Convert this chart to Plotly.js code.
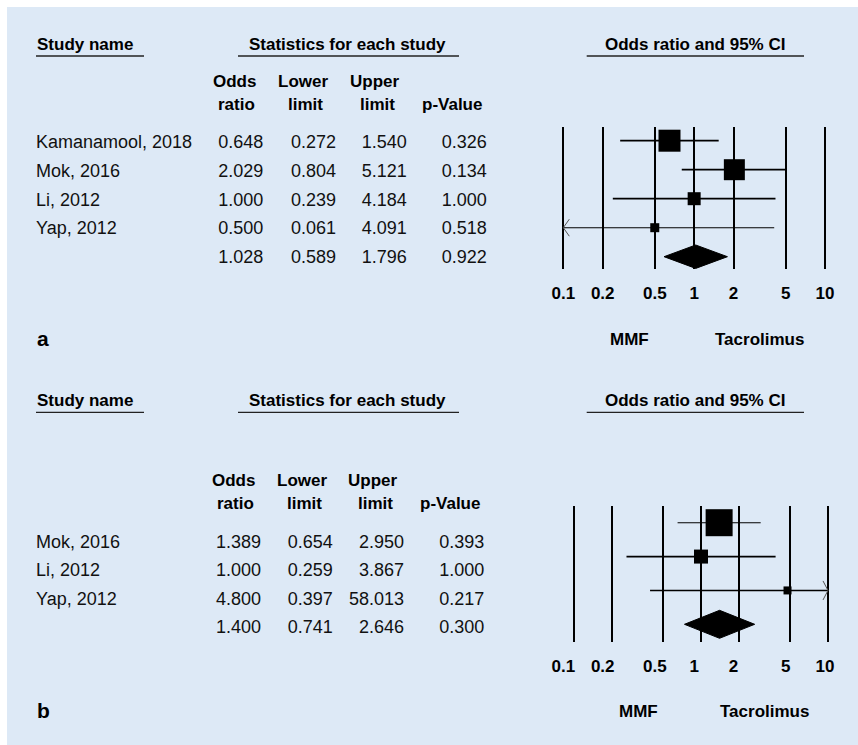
<!DOCTYPE html>
<html><head><meta charset="utf-8">
<script src="https://cdn.plot.ly/plotly-3.0.1.min.js"></script>
<style>html,body{margin:0;padding:0;background:#fff;}#chart{width:858px;height:745px;}</style>
</head><body><div id="chart"></div>
<script>
// ---------------- data ----------------
const studiesA = ['Kamanamool, 2018', 'Mok, 2016', 'Li, 2012', 'Yap, 2012'];
const oddsA  = [0.648, 2.029, 1.000, 0.500];
const lowerA = [0.272, 0.804, 0.239, 0.061];
const upperA = [1.540, 5.121, 4.184, 4.091];
const pValA  = [0.326, 0.134, 1.000, 0.518];
const summaryA = [1.028, 0.589, 1.796, 0.922]; // odds ratio, lower, upper, p

const studiesB = ['Mok, 2016', 'Li, 2012', 'Yap, 2012'];
const oddsB  = [1.389, 1.000, 4.800];
const lowerB = [0.654, 0.259, 0.397];
const upperB = [2.950, 3.867, 58.013];
const pValB  = [0.393, 1.000, 0.217];
const summaryB = [1.400, 0.741, 2.646, 0.300];

const tickVals   = [0.1, 0.2, 0.5, 1, 2, 5, 10];
const tickLabels = ['0.1', '0.2', '0.5', '1', '2', '5', '10'];
const colHeadTop = ['Odds', 'Lower', 'Upper', ''];
const colHeadBot = ['ratio', 'limit', 'limit', 'p-Value'];
const panelTitles = ['Study name', 'Statistics for each study', 'Odds ratio and 95% CI'];
const favoursLeft = 'MMF', favoursRight = 'Tacrolimus';
const panelLetters = ['a', 'b'];

// ---------------- style / layout ----------------
const W = 858, H = 745;
const FONT = 'Liberation Sans, Arial, Helvetica, sans-serif';
const BG = '#dde9f6';
const INK = '#000000';
const AXMIN = 0.1, AXMAX = 10, PADDEC = 0.03;

const geoA = {
  xLo: 563.3, xDec: 130.85, yTop: 127.3, yBot: 269.3, rowFirst: 140.7, rowStep: 29.0,
  lblLo: 563.3, lblDec: 130.85,
  boxSize: [22, 21, 13, 9], ciWidth: [1.8, 1.8, 1.8, 1.1], diamondHalf: 11.7,
  tabRow0: 143.6, tabStep: 28.75, colRight: [263.3, 336, 406.7, 486.7], colCenter: [234, 303, 375, 452],
  headY: 44.3, ruleY: 56, subHeadY: [81.7, 104], favY: 339.3, favX: [629, 759], letterY: 338.5
};
const geoB = {
  xLo: 574.0, xDec: 127.0, yTop: 506.0, yBot: 641.7, rowFirst: 522.7, rowStep: 33.87,
  lblLo: 563.3, lblDec: 130.85,
  boxSize: [27, 14, 8], ciWidth: [1.1, 1.8, 1.4], diamondHalf: 14,
  tabRow0: 543.0, tabStep: 28.6, colRight: [261, 332.7, 404, 484.3], colCenter: [233, 302, 373, 450],
  headY: 400.7, ruleY: 412.3, subHeadY: [480, 503.3], favY: 711.7, favX: [638, 764], letterY: 710.5
};

const traces = [];
const annotations = [];
const shapes = [];
const layout = {
  width: W, height: H, autosize: false,
  margin: {l: 0, r: 0, t: 0, b: 0, pad: 0},
  paper_bgcolor: '#ffffff', plot_bgcolor: 'rgba(0,0,0,0)',
  showlegend: false, hovermode: false,
  font: {family: FONT, color: INK},
  xaxis9: {domain: [0, 1], range: [0, W], visible: false, anchor: 'y9', fixedrange: true},
  yaxis9: {domain: [0, 1], range: [H, 0], visible: false, anchor: 'x9', fixedrange: true}
};

shapes.push({type: 'rect', xref: 'paper', yref: 'paper', x0: 7 / W, x1: 1, y0: 0, y1: 1 - 7 / H,
  fillcolor: BG, line: {width: 0}, layer: 'below'});

function logAxis(geo, showLabels, showGrid, anchor) {
  const lo = geo.xLo - PADDEC * geo.xDec, hi = geo.xLo + (2 + PADDEC) * geo.xDec;
  return {
    type: 'log', range: [-1 - PADDEC, 1 + PADDEC], domain: [lo / W, hi / W], anchor: anchor,
    tickmode: 'array', tickvals: tickVals, ticktext: tickLabels, ticks: '',
    showticklabels: showLabels, ticklabelstandoff: 12,
    tickfont: {family: FONT, size: 17, weight: 'bold', color: INK},
    showgrid: showGrid, gridcolor: INK, gridwidth: 2, zeroline: false, showline: false, fixedrange: true
  };
}
function labelAxis(geo, anchor) {
  const g = {xLo: geo.lblLo, xDec: geo.lblDec};
  return logAxis(g, true, false, anchor);
}
function rowAxis(geo, nRows, anchor) {
  const top = (geo.yTop - geo.rowFirst) / geo.rowStep + 1;
  const bot = (geo.yBot - geo.rowFirst) / geo.rowStep + 1;
  return {domain: [1 - geo.yBot / H, 1 - geo.yTop / H], range: [bot, top], visible: false,
    anchor: anchor, fixedrange: true};
}

function buildPanel(k, geo, names, odds, lower, upper, pv, summary, xa, ya) {
  const n = names.length;
  const rows = names.map((_, i) => i + 1);
  const sumRow = n + 1;
  const rowUnit = 1 / geo.rowStep;            // rows per pixel
  const decUnit = 1 / geo.xDec;               // decades per pixel
  // CI lines (clipped at axis limits) + arrows
  for (let i = 0; i < n; i++) {
    const a = Math.max(lower[i], AXMIN), b = Math.min(upper[i], AXMAX);
    traces.push({type: 'scatter', mode: 'lines', x: [a, b], y: [rows[i], rows[i]], xaxis: xa, yaxis: ya,
      line: {color: INK, width: geo.ciWidth[i]}, hoverinfo: 'skip', cliponaxis: false});
    if (lower[i] < AXMIN) {
      const dx = Math.pow(10, 6 * decUnit), dy = 8.5 * rowUnit;
      traces.push({type: 'scatter', mode: 'lines', x: [AXMIN * dx, AXMIN, AXMIN * dx],
        y: [rows[i] - dy, rows[i], rows[i] + dy], xaxis: xa, yaxis: ya,
        line: {color: '#555', width: 1}, hoverinfo: 'skip', cliponaxis: false});
    }
    if (upper[i] > AXMAX) {
      const dx = Math.pow(10, 5 * decUnit), dy = 9.5 * rowUnit;
      traces.push({type: 'scatter', mode: 'lines', x: [AXMAX / dx, AXMAX, AXMAX / dx],
        y: [rows[i] - dy, rows[i], rows[i] + dy], xaxis: xa, yaxis: ya,
        line: {color: '#555', width: 1}, hoverinfo: 'skip', cliponaxis: false});
    }
  }
  // study boxes
  traces.push({type: 'scatter', mode: 'markers', x: odds, y: rows, xaxis: xa, yaxis: ya,
    marker: {symbol: 'square', size: geo.boxSize, color: INK, opacity: 1, line: {width: 0}},
    hoverinfo: 'skip', cliponaxis: false});
  // summary diamond
  const h = geo.diamondHalf * rowUnit;
  traces.push({type: 'scatter', mode: 'lines', fill: 'toself',
    x: [summary[1], summary[0], summary[2], summary[0], summary[1]],
    y: [sumRow, sumRow - h, sumRow, sumRow + h, sumRow], xaxis: xa, yaxis: ya,
    fillcolor: INK, line: {color: INK, width: 1}, hoverinfo: 'skip', cliponaxis: false});

  // ------- table text -------
  const tabY = [];
  for (let i = 0; i <= n; i++) tabY.push(geo.tabRow0 + i * geo.tabStep);
  traces.push({type: 'scatter', mode: 'text', x: names.map(() => 36), y: tabY.slice(0, n), text: names,
    textposition: 'middle right', textfont: {family: FONT, size: 18, color: '#111'},
    xaxis: 'x9', yaxis: 'y9', hoverinfo: 'skip', cliponaxis: false});
  const cols = [odds.concat([summary[0]]), lower.concat([summary[1]]), upper.concat([summary[2]]), pv.concat([summary[3]])];
  cols.forEach((vals, j) => {
    traces.push({type: 'scatter', mode: 'text', x: vals.map(() => geo.colRight[j]), y: tabY,
      text: vals.map(v => v.toFixed(3)), textposition: 'middle left',
      textfont: {family: FONT, size: 18, color: '#111'},
      xaxis: 'x9', yaxis: 'y9', hoverinfo: 'skip', cliponaxis: false});
  });

  // ------- headers -------
  const bold = (size) => ({family: FONT, size: size || 17, weight: 'bold', color: INK});
  const ann = (text, x, y, xanchor, size) => annotations.push({text: text, x: x, y: y, xref: 'x9', yref: 'y9',
    xanchor: xanchor, yanchor: 'middle', showarrow: false, font: bold(size), borderpad: 0});
  ann(panelTitles[0], 36, geo.headY, 'left');
  ann(panelTitles[1], 347.5, geo.headY, 'center');
  ann(panelTitles[2], 695, geo.headY, 'center');
  [[36, 144], [238, 459], [586.7, 804]].forEach(r => shapes.push({type: 'line', xref: 'x9', yref: 'y9',
    x0: r[0], x1: r[1], y0: geo.ruleY, y1: geo.ruleY, line: {color: '#222', width: 1.3}}));
  colHeadTop.forEach((t, j) => { if (t) ann(t, geo.colCenter[j], geo.subHeadY[0], 'center'); });
  colHeadBot.forEach((t, j) => ann(t, geo.colCenter[j] + (j < 3 ? 2.5 : 0), geo.subHeadY[1], 'center'));
  ann(favoursLeft, geo.favX[0], geo.favY, 'center');
  ann(favoursRight, geo.favX[1], geo.favY, 'center');
  ann(panelLetters[k], 36, geo.letterY, 'left', 21);
}

layout.xaxis  = logAxis(geoA, true, true, 'y');
layout.yaxis  = rowAxis(geoA, 5, 'x');
layout.xaxis2 = logAxis(geoB, false, true, 'y2');
layout.yaxis2 = rowAxis(geoB, 4, 'x2');
layout.xaxis3 = labelAxis(geoB, 'y2');

buildPanel(0, geoA, studiesA, oddsA, lowerA, upperA, pValA, summaryA, 'x', 'y');
buildPanel(1, geoB, studiesB, oddsB, lowerB, upperB, pValB, summaryB, 'x2', 'y2');

// carrier for the panel-b tick-label axis (no visible marks)
traces.push({type: 'scatter', mode: 'markers', x: tickVals, y: tickVals.map(() => 1), xaxis: 'x3', yaxis: 'y2',
  marker: {opacity: 0, size: 1}, hoverinfo: 'skip'});

layout.annotations = annotations;
layout.shapes = shapes;

Plotly.newPlot('chart', traces, layout, {displayModeBar: false, staticPlot: true});
</script>
</body></html>
